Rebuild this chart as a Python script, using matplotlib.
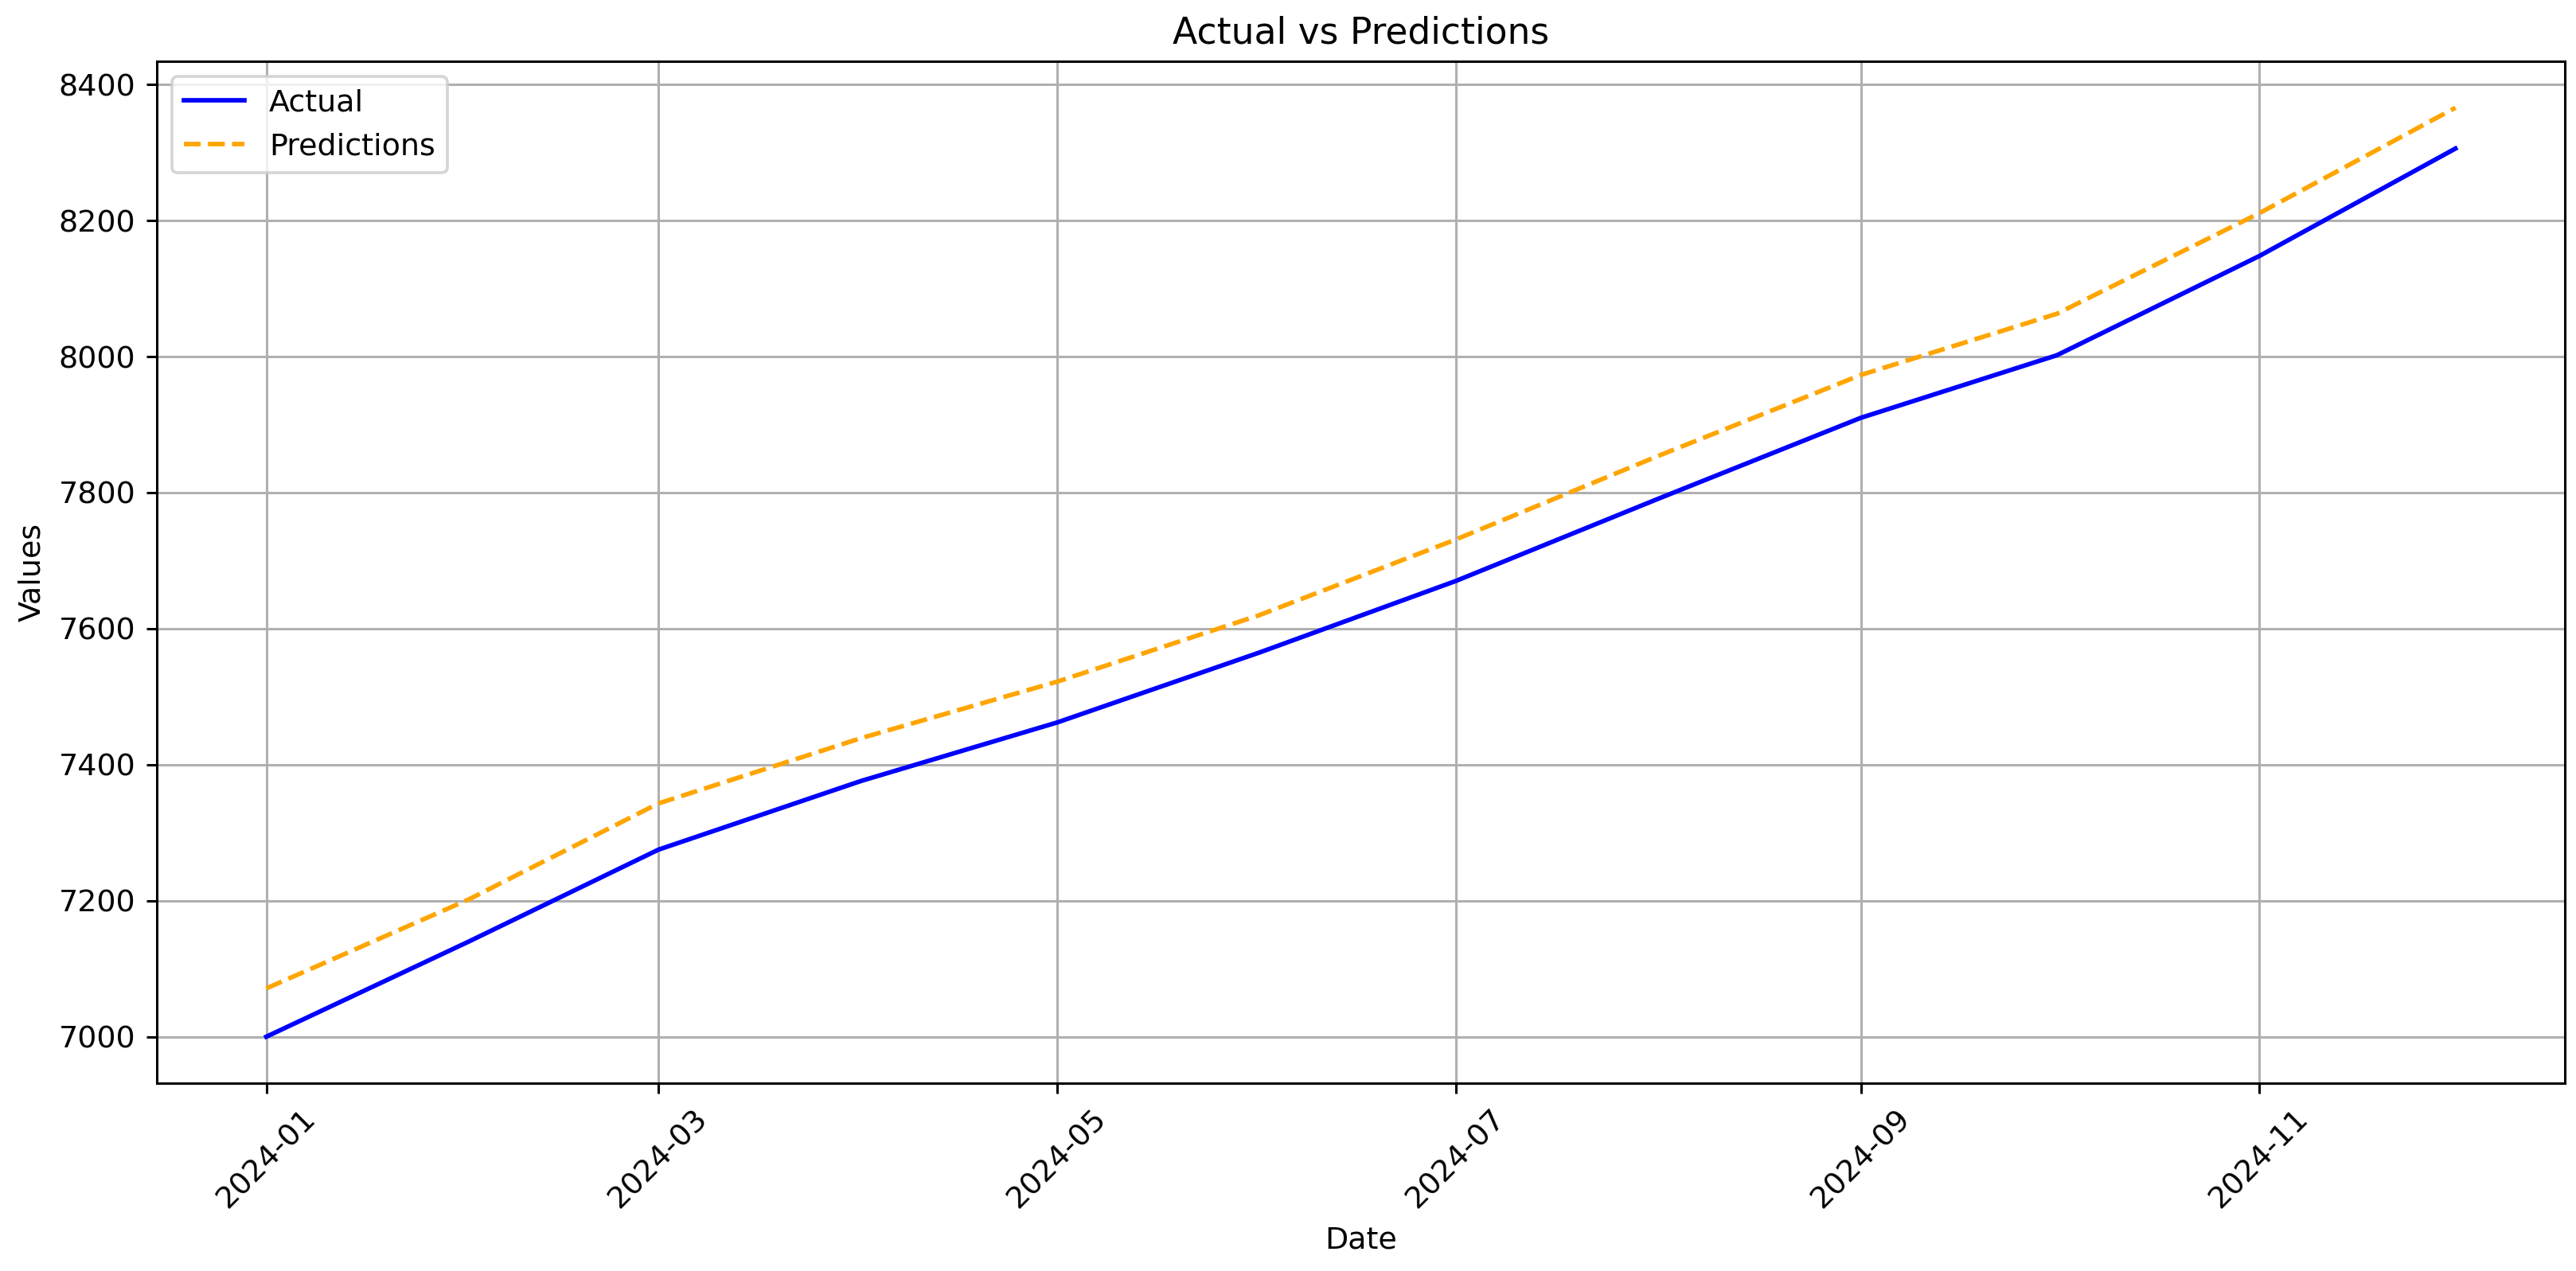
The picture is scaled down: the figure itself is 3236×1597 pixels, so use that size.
import matplotlib
matplotlib.use('Agg')
import matplotlib.pyplot as plt
import pandas as pd

# monthly values
dates = pd.date_range('2024-01-01', periods=12, freq='MS')
actual = [7000, 7140, 7275, 7376, 7462, 7565, 7670, 7791, 7910, 8002, 8148, 8306]
predictions = [7071, 7202, 7343, 7439, 7522, 7620, 7731, 7854, 7973, 8063, 8211, 8366]

dpi = 274
plt.figure(figsize=(3236 / dpi, 1597 / dpi))
plt.plot(dates, actual, label='Actual', color='blue')
plt.plot(dates, predictions, label='Predictions', color='orange', linestyle='--')
plt.title('Actual vs Predictions')
plt.xlabel('Date')
plt.ylabel('Values')
plt.xticks(rotation=45)
plt.legend(loc='upper left')
plt.grid(True)
plt.subplots_adjust(left=0.0609, right=0.9957, top=0.9518, bottom=0.1478)
plt.savefig('out.png', dpi=dpi)
plt.close()
